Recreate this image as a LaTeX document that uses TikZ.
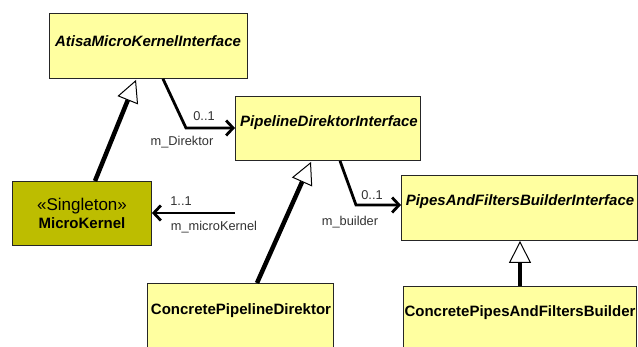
\documentclass[tikz,border=0pt]{standalone}
\usepackage{fontspec}
\setmainfont{Liberation Sans}
\usetikzlibrary{arrows.meta,calc}
\definecolor{clsyellow}{RGB}{255,255,160}
\definecolor{clsolive}{RGB}{189,189,0}
\definecolor{lbl}{RGB}{50,50,50}
\tikzset{
  clsbox/.style={draw=black!85, line width=0.9pt, anchor=north west, inner sep=0pt},
  clsname/.style={font=\fontsize{15}{17}\selectfont\bfseries, inner sep=0pt, anchor=center},
  ifname/.style={clsname, font=\fontsize{15}{17}\selectfont\bfseries\itshape},
  lbltext/.style={font=\fontsize{12.8}{15}\selectfont, text=lbl, inner sep=0pt, anchor=center},
  assoc/.style={line width=2.8pt, -{Straight Barb[length=7pt,width=15pt]}},
  gener/.style={line width=4.5pt, -{Triangle[open, fill=white, length=22pt, width=22pt, line width=1pt]}}
}
\begin{document}
\begin{tikzpicture}[x=1pt,y=-1pt]
\useasboundingbox (0,0) rectangle (638,347);
\clip (0,0) rectangle (638,347);
\fill[white] (0,0) rectangle (638,347);
% boxes
\node[clsbox, fill=clsyellow, minimum width=198pt, minimum height=65pt] (amk) at (49,13) {};
\node[clsbox, fill=clsyellow, minimum width=185pt, minimum height=64pt] (pdi) at (235,96) {};
\node[clsbox, fill=clsyellow, minimum width=236pt, minimum height=65pt] (pfb) at (401,175) {};
\node[clsbox, fill=clsolive, minimum width=139pt, minimum height=64pt] (mk) at (12,181) {};
\node[clsbox, fill=clsyellow, minimum width=186pt, minimum height=90pt] (cpd) at (147,283) {};
\node[clsbox, fill=clsyellow, minimum width=233pt, minimum height=90pt] (cpb) at (403,286) {};
% texts
\node[ifname] (tamk) at (148,41) {AtisaMicroKernelInterface};
\node[ifname] (tpdi) at (329,123) {PipelineDirektorInterface};
\node[ifname] (tpfb) at (520,202) {PipesAndFiltersBuilderInterface};
\node[font=\fontsize{17}{19}\selectfont, inner sep=0pt] (tst) at (82,206) {«Singleton»};
\node[clsname] (tmk) at (82,223) {MicroKernel};
\node[clsname] (tcpd) at (241,311) {ConcretePipelineDirektor};
\node[clsname] (tcpb) at (520,313) {ConcretePipesAndFiltersBuilder};
% generalizations
\draw[gener] ($(mk.north west)+(83,0)$) -- ($(amk.south west)+(87,1)$);
\draw[gener] ($(cpd.north west)+(110,0)$) -- ($(pdi.south west)+(76,1)$);
\draw[gener] ($(cpb.north west)+(117,0)$) -- ($(pfb.south west)+(119,0)$);
% associations
\coordinate (b1) at (186,128);
\draw[assoc] ($(amk.south west)+(114,0)$) -- (b1) -- (pdi.west |- b1);
\coordinate (b2) at (356,205);
\draw[assoc] ($(pdi.south west)+(105,0)$) -- (b2) -- (pfb.west |- b2);
\coordinate (s3) at (235,213);
\draw[assoc] (s3) -- (mk.east |- s3);
% labels
\node[lbltext] (l1a) at (204,116) {0..1};
\node[lbltext] (l1b) at (182,142) {m\_Direktor};
\node[lbltext] (l2a) at (372,195) {0..1};
\node[lbltext] (l2b) at (350,222) {m\_builder};
\node[lbltext] (l3a) at (181,201) {1..1};
\node[lbltext] (l3b) at (214,227) {m\_microKernel};
\end{tikzpicture}
\end{document}
